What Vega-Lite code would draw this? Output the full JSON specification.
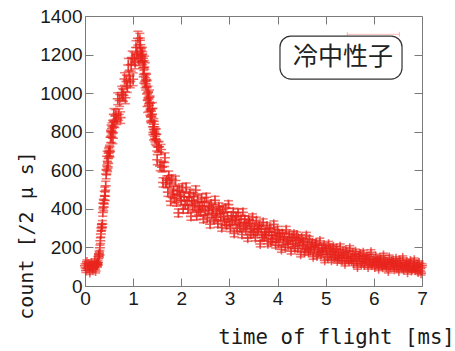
{
  "$schema": "https://vega.github.io/schema/vega-lite/v6.json",
  "width": 337,
  "height": 270,
  "autosize": "none",
  "padding": {"left": 85, "top": 16, "right": 33, "bottom": 65},
  "background": "white",
  "config": {
    "view": {"stroke": "#7a7a7a", "strokeWidth": 1},
    "axis": {"grid": false, "domain": false, "labelFlush": false, "labelOverlap": false, "tickColor": "#7a7a7a", "tickWidth": 1}
  },
  "datasets": {
    "tof": [
      {"t":0.00,"c":105,"e":10},{"t":0.02,"c":80,"e":10},{"t":0.04,"c":125,"e":10},{"t":0.06,"c":92,"e":10},{"t":0.08,"c":113,"e":10},
      {"t":0.10,"c":70,"e":10},{"t":0.12,"c":101,"e":10},{"t":0.14,"c":118,"e":10},{"t":0.16,"c":87,"e":10},{"t":0.18,"c":97,"e":10},
      {"t":0.20,"c":130,"e":10},{"t":0.22,"c":78,"e":10},{"t":0.24,"c":116,"e":10},{"t":0.25,"c":112,"e":11},{"t":0.26,"c":108,"e":10},
      {"t":0.27,"c":121,"e":11},{"t":0.28,"c":154,"e":12},{"t":0.29,"c":166,"e":13},{"t":0.30,"c":160,"e":13},{"t":0.31,"c":198,"e":14},
      {"t":0.32,"c":235,"e":15},{"t":0.33,"c":270,"e":16},{"t":0.34,"c":301,"e":17},{"t":0.35,"c":306,"e":17},{"t":0.36,"c":321,"e":18},
      {"t":0.37,"c":381,"e":19},{"t":0.38,"c":429,"e":21},{"t":0.39,"c":410,"e":20},{"t":0.40,"c":445,"e":21},{"t":0.41,"c":491,"e":22},
      {"t":0.42,"c":465,"e":22},{"t":0.43,"c":520,"e":23},{"t":0.44,"c":580,"e":24},{"t":0.45,"c":601,"e":25},{"t":0.46,"c":673,"e":26},
      {"t":0.47,"c":618,"e":25},{"t":0.48,"c":636,"e":25},{"t":0.49,"c":688,"e":26},{"t":0.50,"c":695,"e":26},{"t":0.51,"c":703,"e":27},
      {"t":0.52,"c":696,"e":26},{"t":0.53,"c":771,"e":28},{"t":0.54,"c":807,"e":28},{"t":0.55,"c":772,"e":28},{"t":0.56,"c":817,"e":29},
      {"t":0.57,"c":830,"e":29},{"t":0.58,"c":766,"e":28},{"t":0.59,"c":824,"e":29},{"t":0.60,"c":890,"e":30},{"t":0.62,"c":851,"e":29},
      {"t":0.64,"c":884,"e":30},{"t":0.66,"c":866,"e":29},{"t":0.68,"c":971,"e":31},{"t":0.70,"c":889,"e":30},{"t":0.72,"c":962,"e":31},
      {"t":0.74,"c":873,"e":30},{"t":0.76,"c":1003,"e":32},{"t":0.78,"c":992,"e":31},{"t":0.80,"c":988,"e":31},{"t":0.82,"c":1073,"e":33},
      {"t":0.84,"c":976,"e":31},{"t":0.86,"c":1060,"e":33},{"t":0.88,"c":1036,"e":32},{"t":0.90,"c":1146,"e":34},{"t":0.92,"c":1086,"e":33},
      {"t":0.94,"c":1061,"e":33},{"t":0.96,"c":1148,"e":34},{"t":0.98,"c":1184,"e":34},{"t":1.00,"c":1072,"e":33},{"t":1.02,"c":1177,"e":34},
      {"t":1.04,"c":1160,"e":34},{"t":1.06,"c":1237,"e":35},{"t":1.08,"c":1202,"e":35},{"t":1.10,"c":1285,"e":36},{"t":1.12,"c":1178,"e":34},
      {"t":1.14,"c":1274,"e":36},{"t":1.15,"c":1251,"e":35},{"t":1.16,"c":1196,"e":35},{"t":1.17,"c":1188,"e":34},{"t":1.18,"c":1199,"e":35},
      {"t":1.19,"c":1203,"e":35},{"t":1.20,"c":1181,"e":34},{"t":1.21,"c":1131,"e":34},{"t":1.22,"c":1085,"e":33},{"t":1.23,"c":1135,"e":34},
      {"t":1.24,"c":1158,"e":34},{"t":1.25,"c":1061,"e":33},{"t":1.26,"c":1048,"e":32},{"t":1.27,"c":1070,"e":33},{"t":1.28,"c":1065,"e":33},
      {"t":1.29,"c":996,"e":32},{"t":1.30,"c":931,"e":31},{"t":1.31,"c":1004,"e":32},{"t":1.32,"c":977,"e":31},{"t":1.33,"c":937,"e":31},
      {"t":1.34,"c":985,"e":31},{"t":1.35,"c":948,"e":31},{"t":1.36,"c":885,"e":30},{"t":1.37,"c":878,"e":30},{"t":1.38,"c":876,"e":30},
      {"t":1.39,"c":889,"e":30},{"t":1.40,"c":921,"e":30},{"t":1.41,"c":826,"e":29},{"t":1.42,"c":785,"e":28},{"t":1.43,"c":839,"e":29},
      {"t":1.44,"c":825,"e":29},{"t":1.45,"c":775,"e":28},{"t":1.46,"c":763,"e":28},{"t":1.47,"c":786,"e":28},{"t":1.48,"c":787,"e":28},
      {"t":1.49,"c":727,"e":27},{"t":1.50,"c":655,"e":26},{"t":1.52,"c":720,"e":27},{"t":1.54,"c":722,"e":27},{"t":1.56,"c":623,"e":25},
      {"t":1.58,"c":708,"e":26},{"t":1.60,"c":616,"e":25},{"t":1.62,"c":537,"e":24},{"t":1.64,"c":620,"e":25},{"t":1.66,"c":665,"e":25},
      {"t":1.68,"c":534,"e":23},{"t":1.70,"c":548,"e":23},{"t":1.72,"c":487,"e":22},{"t":1.74,"c":572,"e":24},{"t":1.76,"c":539,"e":23},
      {"t":1.78,"c":440,"e":22},{"t":1.80,"c":554,"e":23},{"t":1.82,"c":480,"e":22},{"t":1.84,"c":494,"e":22},{"t":1.86,"c":452,"e":22},
      {"t":1.88,"c":547,"e":23},{"t":1.90,"c":435,"e":21},{"t":1.92,"c":494,"e":22},{"t":1.94,"c":379,"e":20},{"t":1.96,"c":497,"e":22},
      {"t":1.98,"c":466,"e":22},{"t":2.00,"c":443,"e":21},{"t":2.02,"c":508,"e":22},{"t":2.04,"c":398,"e":20},{"t":2.06,"c":463,"e":21},
      {"t":2.08,"c":424,"e":21},{"t":2.10,"c":512,"e":22},{"t":2.12,"c":439,"e":21},{"t":2.14,"c":398,"e":20},{"t":2.16,"c":464,"e":21},
      {"t":2.18,"c":480,"e":22},{"t":2.20,"c":361,"e":20},{"t":2.22,"c":442,"e":21},{"t":2.24,"c":410,"e":20},{"t":2.26,"c":464,"e":21},
      {"t":2.28,"c":417,"e":20},{"t":2.30,"c":497,"e":22},{"t":2.32,"c":363,"e":20},{"t":2.34,"c":447,"e":21},{"t":2.36,"c":390,"e":20},
      {"t":2.38,"c":416,"e":20},{"t":2.40,"c":383,"e":20},{"t":2.42,"c":456,"e":21},{"t":2.44,"c":415,"e":20},{"t":2.46,"c":347,"e":19},
      {"t":2.48,"c":435,"e":21},{"t":2.50,"c":385,"e":20},{"t":2.52,"c":460,"e":21},{"t":2.54,"c":353,"e":19},{"t":2.56,"c":393,"e":20},
      {"t":2.58,"c":412,"e":20},{"t":2.60,"c":320,"e":19},{"t":2.62,"c":425,"e":20},{"t":2.64,"c":375,"e":19},{"t":2.66,"c":400,"e":20},
      {"t":2.68,"c":346,"e":19},{"t":2.70,"c":444,"e":21},{"t":2.72,"c":355,"e":19},{"t":2.74,"c":385,"e":20},{"t":2.76,"c":323,"e":18},
      {"t":2.78,"c":411,"e":20},{"t":2.80,"c":394,"e":20},{"t":2.82,"c":358,"e":19},{"t":2.84,"c":302,"e":18},{"t":2.86,"c":395,"e":20},
      {"t":2.88,"c":361,"e":19},{"t":2.90,"c":332,"e":18},{"t":2.92,"c":405,"e":20},{"t":2.94,"c":315,"e":18},{"t":2.96,"c":363,"e":19},
      {"t":2.98,"c":422,"e":20},{"t":3.00,"c":329,"e":18},{"t":3.02,"c":300,"e":18},{"t":3.04,"c":364,"e":19},{"t":3.06,"c":336,"e":18},
      {"t":3.08,"c":384,"e":19},{"t":3.10,"c":272,"e":17},{"t":3.12,"c":339,"e":18},{"t":3.14,"c":361,"e":19},{"t":3.16,"c":299,"e":18},
      {"t":3.18,"c":380,"e":19},{"t":3.20,"c":328,"e":18},{"t":3.22,"c":301,"e":18},{"t":3.24,"c":347,"e":18},{"t":3.26,"c":267,"e":17},
      {"t":3.28,"c":382,"e":19},{"t":3.30,"c":310,"e":18},{"t":3.32,"c":346,"e":18},{"t":3.34,"c":296,"e":17},{"t":3.36,"c":319,"e":18},
      {"t":3.38,"c":248,"e":16},{"t":3.40,"c":344,"e":18},{"t":3.42,"c":327,"e":18},{"t":3.44,"c":268,"e":17},{"t":3.46,"c":298,"e":17},
      {"t":3.48,"c":356,"e":18},{"t":3.50,"c":278,"e":17},{"t":3.52,"c":307,"e":17},{"t":3.54,"c":250,"e":16},{"t":3.56,"c":339,"e":18},
      {"t":3.58,"c":281,"e":17},{"t":3.60,"c":294,"e":17},{"t":3.62,"c":313,"e":17},{"t":3.64,"c":218,"e":15},{"t":3.66,"c":301,"e":17},
      {"t":3.68,"c":251,"e":16},{"t":3.70,"c":330,"e":18},{"t":3.72,"c":253,"e":16},{"t":3.74,"c":278,"e":17},{"t":3.76,"c":262,"e":16},
      {"t":3.78,"c":311,"e":17},{"t":3.80,"c":219,"e":15},{"t":3.82,"c":283,"e":17},{"t":3.84,"c":299,"e":17},{"t":3.86,"c":229,"e":16},
      {"t":3.88,"c":263,"e":16},{"t":3.90,"c":243,"e":16},{"t":3.92,"c":320,"e":17},{"t":3.94,"c":278,"e":16},{"t":3.96,"c":212,"e":15},
      {"t":3.98,"c":248,"e":16},{"t":4.00,"c":292,"e":17},{"t":4.02,"c":224,"e":15},{"t":4.04,"c":271,"e":16},{"t":4.06,"c":256,"e":16},
      {"t":4.08,"c":189,"e":14},{"t":4.10,"c":272,"e":16},{"t":4.12,"c":228,"e":15},{"t":4.14,"c":257,"e":16},{"t":4.16,"c":201,"e":15},
      {"t":4.18,"c":292,"e":17},{"t":4.20,"c":233,"e":15},{"t":4.22,"c":215,"e":15},{"t":4.24,"c":266,"e":16},{"t":4.26,"c":238,"e":15},
      {"t":4.28,"c":180,"e":14},{"t":4.30,"c":253,"e":16},{"t":4.32,"c":219,"e":15},{"t":4.34,"c":269,"e":16},{"t":4.36,"c":194,"e":14},
      {"t":4.38,"c":233,"e":15},{"t":4.40,"c":264,"e":16},{"t":4.42,"c":196,"e":14},{"t":4.44,"c":242,"e":15},{"t":4.46,"c":223,"e":15},
      {"t":4.48,"c":164,"e":13},{"t":4.50,"c":251,"e":15},{"t":4.52,"c":210,"e":15},{"t":4.54,"c":230,"e":15},{"t":4.56,"c":175,"e":14},
      {"t":4.58,"c":194,"e":14},{"t":4.60,"c":262,"e":16},{"t":4.62,"c":216,"e":15},{"t":4.64,"c":175,"e":14},{"t":4.66,"c":242,"e":15},
      {"t":4.68,"c":183,"e":14},{"t":4.70,"c":203,"e":14},{"t":4.72,"c":224,"e":15},{"t":4.74,"c":152,"e":13},{"t":4.76,"c":191,"e":14},
      {"t":4.78,"c":215,"e":14},{"t":4.80,"c":223,"e":15},{"t":4.82,"c":156,"e":13},{"t":4.84,"c":197,"e":14},{"t":4.86,"c":174,"e":13},
      {"t":4.88,"c":233,"e":15},{"t":4.90,"c":163,"e":13},{"t":4.92,"c":197,"e":14},{"t":4.94,"c":176,"e":13},{"t":4.96,"c":210,"e":14},
      {"t":4.98,"c":133,"e":12},{"t":5.00,"c":195,"e":14},{"t":5.02,"c":179,"e":13},{"t":5.04,"c":150,"e":13},{"t":5.06,"c":217,"e":14},
      {"t":5.08,"c":166,"e":13},{"t":5.10,"c":195,"e":14},{"t":5.12,"c":134,"e":12},{"t":5.14,"c":177,"e":13},{"t":5.16,"c":202,"e":14},
      {"t":5.18,"c":150,"e":12},{"t":5.20,"c":159,"e":13},{"t":5.22,"c":193,"e":14},{"t":5.24,"c":130,"e":12},{"t":5.26,"c":173,"e":13},
      {"t":5.28,"c":143,"e":12},{"t":5.30,"c":204,"e":14},{"t":5.32,"c":157,"e":13},{"t":5.34,"c":133,"e":12},{"t":5.36,"c":176,"e":13},
      {"t":5.38,"c":161,"e":13},{"t":5.40,"c":115,"e":11},{"t":5.42,"c":185,"e":13},{"t":5.44,"c":142,"e":12},{"t":5.46,"c":165,"e":13},
      {"t":5.48,"c":131,"e":12},{"t":5.50,"c":196,"e":13},{"t":5.52,"c":144,"e":12},{"t":5.54,"c":131,"e":12},{"t":5.56,"c":168,"e":13},
      {"t":5.58,"c":117,"e":11},{"t":5.60,"c":151,"e":12},{"t":5.62,"c":178,"e":13},{"t":5.64,"c":129,"e":12},{"t":5.66,"c":98,"e":11},
      {"t":5.68,"c":156,"e":12},{"t":5.70,"c":141,"e":12},{"t":5.72,"c":166,"e":13},{"t":5.74,"c":115,"e":11},{"t":5.76,"c":128,"e":11},
      {"t":5.78,"c":173,"e":13},{"t":5.80,"c":109,"e":11},{"t":5.82,"c":144,"e":12},{"t":5.84,"c":133,"e":12},{"t":5.86,"c":150,"e":12},
      {"t":5.88,"c":98,"e":10},{"t":5.90,"c":153,"e":12},{"t":5.92,"c":119,"e":11},{"t":5.94,"c":175,"e":13},{"t":5.96,"c":111,"e":11},
      {"t":5.98,"c":124,"e":11},{"t":6.00,"c":133,"e":11},{"t":6.02,"c":98,"e":10},{"t":6.04,"c":153,"e":12},{"t":6.06,"c":118,"e":11},
      {"t":6.08,"c":136,"e":11},{"t":6.10,"c":90,"e":10},{"t":6.12,"c":125,"e":11},{"t":6.14,"c":143,"e":12},{"t":6.16,"c":108,"e":11},
      {"t":6.18,"c":97,"e":10},{"t":6.20,"c":158,"e":12},{"t":6.22,"c":113,"e":11},{"t":6.24,"c":128,"e":11},{"t":6.26,"c":99,"e":10},
      {"t":6.28,"c":122,"e":11},{"t":6.30,"c":78,"e":10},{"t":6.32,"c":148,"e":12},{"t":6.34,"c":100,"e":10},{"t":6.36,"c":128,"e":11},
      {"t":6.38,"c":113,"e":11},{"t":6.40,"c":128,"e":11},{"t":6.42,"c":87,"e":10},{"t":6.44,"c":109,"e":10},{"t":6.46,"c":141,"e":11},
      {"t":6.48,"c":95,"e":10},{"t":6.50,"c":118,"e":11},{"t":6.52,"c":78,"e":9},{"t":6.54,"c":132,"e":11},{"t":6.56,"c":108,"e":10},
      {"t":6.58,"c":96,"e":10},{"t":6.60,"c":145,"e":11},{"t":6.62,"c":86,"e":10},{"t":6.64,"c":112,"e":10},{"t":6.66,"c":97,"e":10},
      {"t":6.68,"c":123,"e":11},{"t":6.70,"c":71,"e":9},{"t":6.72,"c":115,"e":11},{"t":6.74,"c":98,"e":10},{"t":6.76,"c":129,"e":11},
      {"t":6.78,"c":81,"e":9},{"t":6.80,"c":87,"e":10},{"t":6.82,"c":105,"e":10},{"t":6.84,"c":134,"e":11},{"t":6.86,"c":82,"e":9},
      {"t":6.88,"c":99,"e":10},{"t":6.90,"c":112,"e":10},{"t":6.92,"c":72,"e":9},{"t":6.94,"c":119,"e":11},{"t":6.96,"c":91,"e":10},
      {"t":6.98,"c":66,"e":9},{"t":7.00,"c":106,"e":10}
    ]
  },
  "layer": [
    {
      "data": {"name": "tof"},
      "mark": {"type": "errorbar", "color": "#e8241c", "opacity": 0.6, "thickness": 1.6, "ticks": {"size": 9}},
      "encoding": {
        "x": {
          "field": "t", "type": "quantitative",
          "scale": {"domain": [0, 7], "nice": false, "zero": false},
          "axis": {
            "orient": "bottom", "values": [0, 1, 2, 3, 4, 5, 6, 7], "format": "d",
            "tickSize": -8, "labelPadding": 11,
            "labelFont": "Liberation Sans", "labelFontSize": 19, "labelColor": "#1a1a1a",
            "title": "time of flight [ms]", "titleFont": "DejaVu Sans Mono", "titleFontSize": 20.7,
            "titleFontWeight": "normal", "titleColor": "#1a1a1a",
            "titleX": 251, "titleY": 57, "titleAlign": "center", "titleBaseline": "alphabetic"
          }
        },
        "y": {
          "field": "c", "type": "quantitative",
          "scale": {"domain": [0, 1400], "nice": false},
          "axis": {
            "orient": "left", "values": [0, 200, 400, 600, 800, 1000, 1200, 1400], "format": "d",
            "tickSize": -8, "labelPadding": 11,
            "labelFont": "Liberation Sans", "labelFontSize": 19, "labelColor": "#1a1a1a",
            "title": "count [/2 μ s]", "titleFont": "DejaVu Sans Mono", "titleFontSize": 20,
            "titleFontWeight": "normal", "titleColor": "#1a1a1a", "titleAngle": -90,
            "titleX": -53, "titleY": 219, "titleAlign": "center", "titleBaseline": "alphabetic"
          }
        },
        "yError": {"field": "e"}
      }
    },
    {
      "data": {"name": "tof"},
      "mark": {"type": "point", "shape": "M-1,0H1M0,-1V1", "filled": false, "size": 100, "strokeWidth": 1.6, "color": "#e8241c", "opacity": 0.7},
      "encoding": {
        "x": {"field": "t", "type": "quantitative", "axis": null},
        "y": {"field": "c", "type": "quantitative", "axis": null}
      }
    },
    {
      "data": {"values": [{}]},
      "mark": {"type": "rule", "color": "#e8241c", "opacity": 0.3, "strokeWidth": 1},
      "encoding": {
        "x": {"datum": 5.448, "type": "quantitative", "axis": null},
        "x2": {"datum": 6.529},
        "y": {"datum": 1305, "type": "quantitative", "axis": null}
      }
    },
    {
      "data": {"values": [{}]},
      "mark": {"type": "rule", "color": "#e8241c", "opacity": 0.3, "strokeWidth": 1},
      "encoding": {
        "x": {"datum": 5.448, "type": "quantitative", "axis": null},
        "y": {"datum": 1292, "type": "quantitative", "axis": null},
        "y2": {"datum": 1318}
      }
    },
    {
      "data": {"values": [{}]},
      "mark": {"type": "rule", "color": "#e8241c", "opacity": 0.3, "strokeWidth": 1},
      "encoding": {
        "x": {"datum": 6.529, "type": "quantitative", "axis": null},
        "y": {"datum": 1292, "type": "quantitative", "axis": null},
        "y2": {"datum": 1318}
      }
    },
    {
      "data": {"values": [{}]},
      "mark": {"type": "rect", "fill": "white", "stroke": "#333333", "strokeWidth": 1.2, "cornerRadius": 11},
      "encoding": {
        "x": {
          "datum": 4.05, "type": "quantitative",
          "axis": {"orient": "top", "values": [1, 2, 3, 4, 5, 6], "labels": false, "tickSize": -8, "title": null}
        },
        "x2": {"datum": 6.585},
        "y": {
          "datum": 1296, "type": "quantitative",
          "axis": {"orient": "right", "values": [200, 400, 600, 800, 1000, 1200], "labels": false, "tickSize": -8, "title": null}
        },
        "y2": {"datum": 1073}
      }
    },
    {
      "data": {"values": [{}]},
      "mark": {"type": "text", "text": "冷中性子", "font": "Noto Sans CJK JP", "fontSize": 25, "color": "#222222", "align": "center", "baseline": "middle"},
      "encoding": {
        "x": {"datum": 5.36, "type": "quantitative", "axis": null},
        "y": {"datum": 1185, "type": "quantitative", "axis": null}
      }
    }
  ],
  "resolve": {"axis": {"x": "independent", "y": "independent"}}
}
